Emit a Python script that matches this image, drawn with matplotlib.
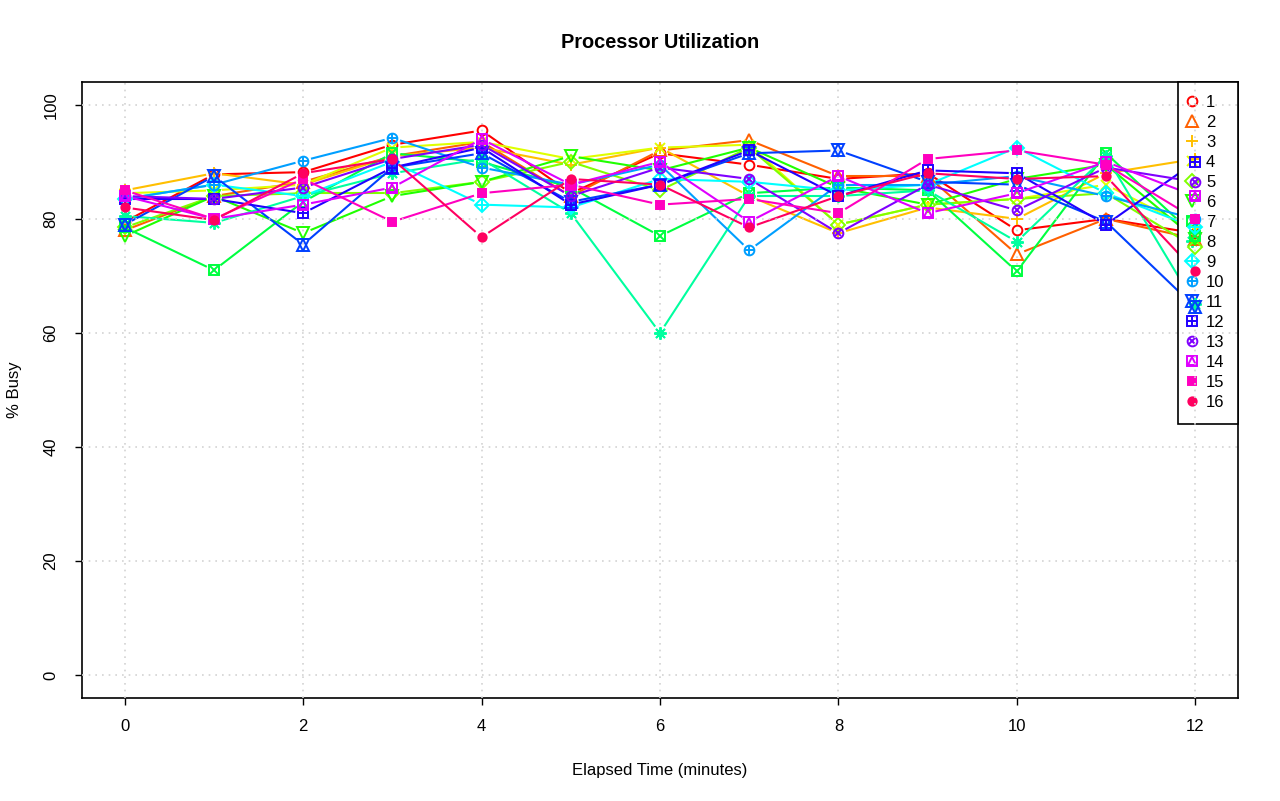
import numpy as np
import matplotlib
matplotlib.use("Agg")
import matplotlib.pyplot as plt

plt.rcParams['font.family'] = ['Liberation Sans', 'DejaVu Sans']

minutes = list(range(13))
cpu1 = [79.5, 87.8, 88.2, 93.0, 95.5, 84.5, 91.5, 89.5, 87.0, 88.0, 78.0, 80.0, 77.5]
cpu2 = [78.0, 84.0, 86.5, 91.0, 93.5, 84.0, 92.0, 93.8, 87.5, 87.5, 73.8, 80.0, 76.5]
cpu3 = [85.0, 88.0, 86.0, 91.0, 92.5, 89.5, 92.5, 84.0, 77.5, 82.0, 80.0, 88.0, 90.5]
cpu4 = [84.5, 85.0, 86.0, 92.5, 93.5, 90.5, 92.5, 93.0, 79.0, 82.5, 83.5, 86.0, 78.0]
cpu5 = [78.5, 84.0, 84.5, 84.5, 86.5, 90.0, 85.0, 92.5, 79.0, 82.5, 83.5, 84.5, 75.0]
cpu6 = [77.0, 84.0, 77.5, 84.0, 86.5, 91.0, 88.5, 92.5, 85.5, 82.5, 87.0, 89.5, 76.5]
cpu7 = [78.5, 71.0, 83.0, 91.5, 90.0, 85.5, 77.0, 84.5, 85.5, 85.0, 70.8, 91.5, 77.0]
cpu8 = [80.5, 79.3, 84.0, 88.0, 90.5, 81.0, 60.0, 84.0, 84.0, 85.0, 76.0, 91.0, 65.0]
cpu9 = [83.5, 86.0, 84.0, 90.0, 82.5, 82.0, 87.0, 86.5, 85.0, 86.0, 92.5, 84.5, 78.5]
cpu10 = [83.5, 86.0, 90.2, 94.2, 89.0, 86.0, 89.5, 74.5, 86.0, 86.0, 87.5, 84.0, 80.0]
cpu11 = [79.0, 87.5, 75.5, 89.0, 91.5, 83.0, 86.0, 91.5, 92.0, 86.5, 86.0, 79.5, 64.5]
cpu12 = [83.5, 83.5, 81.0, 89.0, 92.5, 82.5, 86.0, 92.0, 84.0, 88.5, 88.0, 79.0, 90.0]
cpu13 = [84.0, 83.5, 85.5, 90.5, 93.0, 84.0, 89.0, 87.0, 77.5, 86.0, 81.5, 89.0, 86.5]
cpu14 = [84.0, 80.0, 82.5, 85.5, 94.0, 86.0, 90.0, 79.5, 87.5, 81.0, 84.5, 90.0, 84.0]
cpu15 = [85.0, 80.0, 87.0, 79.5, 84.5, 86.0, 82.5, 83.5, 81.0, 90.5, 92.0, 89.5, 80.0]
cpu16 = [82.0, 79.8, 88.0, 90.5, 76.8, 87.0, 86.0, 78.5, 84.0, 88.0, 87.0, 87.5, 70.8]

series = [cpu1, cpu2, cpu3, cpu4, cpu5, cpu6, cpu7, cpu8,
          cpu9, cpu10, cpu11, cpu12, cpu13, cpu14, cpu15, cpu16]
names = [str(i) for i in range(1, 17)]

# rainbow(16)
colors = ['#FF0000', '#FF6000', '#FFBF00', '#DFFF00', '#80FF00', '#20FF00',
          '#00FF40', '#00FF9F', '#00FFFF', '#009FFF', '#0040FF', '#2000FF',
          '#8000FF', '#DF00FF', '#FF00BF', '#FF0060']

# R pch 1..16, built from overlaid matplotlib markers (marker, filled, size)
pch = [
    [('o', False, 7)],
    [('^', False, 8)],
    [('+', False, 9)],
    [('x', False, 7)],
    [('D', False, 7)],
    [('v', False, 8)],
    [('s', False, 7), ('x', False, 7)],
    [((8, 2, 0), False, 9)],
    [('D', False, 7), ('+', False, 9)],
    [('o', False, 7), ('+', False, 7)],
    [('^', False, 8), ('v', False, 8)],
    [('s', False, 7), ('+', False, 7)],
    [('o', False, 7), ('x', False, 5)],
    [('s', False, 7), ('^', False, 6)],
    [('s', True, 6)],
    [('o', True, 6)],
]

fig = plt.figure(figsize=(12.8, 8.01), dpi=100)
ax = fig.add_axes([82 / 1280, 1 - 698 / 801, (1238 - 82) / 1280, (698 - 82) / 801])
ax.set_xlim(-0.48, 12.48)
ax.set_ylim(-4, 104)

# type="b": lines leave a gap round each point
gap = 8.0
for ys, col in zip(series, colors):
    pts = ax.transData.transform(np.column_stack([minutes, ys]))
    for i in range(len(pts) - 1):
        p0, p1 = pts[i], pts[i + 1]
        d = p1 - p0
        L = np.hypot(*d)
        if L <= 2 * gap:
            continue
        q = np.array([p0 + d / L * gap, p1 - d / L * gap])
        q = ax.transData.inverted().transform(q)
        ax.plot(q[:, 0], q[:, 1], color=col, lw=1.5, zorder=2, solid_capstyle='butt')

handles = []
for ys, col, parts in zip(series, colors, pch):
    group = []
    for m, filled, ms in parts:
        ln, = ax.plot(minutes, ys, ls='none', marker=m, ms=ms, mew=1.4,
                      mec=col, mfc=col if filled else 'none', zorder=4)
        group.append(ln)
    handles.append(tuple(group))

leg = ax.legend(handles, names, loc='upper right', borderaxespad=0, frameon=True,
                fancybox=False, edgecolor='black', framealpha=1, fontsize=12,
                labelspacing=0.3, handlelength=0.1, handletextpad=0.8, borderpad=0.8)
leg.get_frame().set_linewidth(1.2)
leg.set_zorder(3)

for x in range(0, 13, 2):
    ax.axvline(x, color='#D3D3D3', ls=(0, (1, 3)), lw=1.2, zorder=3.5)
for y in range(0, 101, 20):
    ax.axhline(y, color='#D3D3D3', ls=(0, (1, 3)), lw=1.2, zorder=3.5)

ax.set_xticks(range(0, 13, 2))
ax.set_yticks(range(0, 101, 20))
ax.tick_params(axis='both', length=5, width=1, labelsize=12)
ax.tick_params(axis='x', pad=10)
ax.tick_params(axis='y', pad=12)
for lab in ax.get_yticklabels():
    lab.set_rotation(90)
    lab.set_va('center')
for sp in ax.spines.values():
    sp.set_linewidth(1.2)

cx = (82 + 1238) / 2 / 1280
fig.text(cx, 1 - 42 / 801, 'Processor Utilization', ha='center', va='center',
         fontsize=14.4, fontweight='bold')
fig.text(cx, 1 - 770 / 801, 'Elapsed Time (minutes)', ha='center', va='center', fontsize=12)
fig.text(14 / 1280, 1 - 390 / 801, '% Busy', ha='center', va='center', rotation=90, fontsize=12)

fig.savefig('out.png', dpi=100)
